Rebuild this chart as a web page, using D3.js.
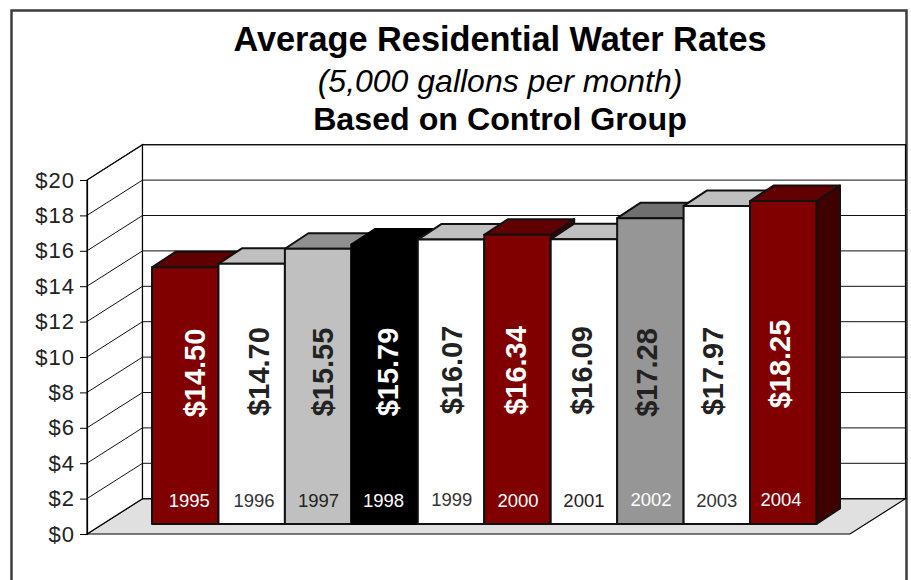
<!DOCTYPE html>
<html><head><meta charset="utf-8">
<script src="https://cdn.jsdelivr.net/npm/d3@7/dist/d3.min.js"></script>
<style>html,body{margin:0;padding:0;background:#fff}svg{display:block}text{font-family:"Liberation Sans",Arial,sans-serif}</style>
</head><body><div id="chart"></div>
<script>
const years=["1995","1996","1997","1998","1999","2000","2001","2002","2003","2004"];
const rates=[14.50,14.70,15.55,15.79,16.07,16.34,16.09,17.28,17.97,18.25];
const rateLabels=["$14.50","$14.70","$15.55","$15.79","$16.07","$16.34","$16.09","$17.28","$17.97","$18.25"];
const ticks=[0,2,4,6,8,10,12,14,16,18,20];
const titles=["Average Residential Water Rates","(5,000 gallons per month)","Based on Control Group"];

// styling, per bar
const fronts=["#800000","#ffffff","#c0c0c0","#000000","#ffffff","#800000","#ffffff","#969696","#ffffff","#800000"];
const tops=["#600000","#c0c0c0","#909090","#000000","#c0c0c0","#600000","#c0c0c0","#707070","#c0c0c0","#600000"];
const sides=["#400000","#808080","#606060","#000000","#808080","#400000","#808080","#4b4b4b","#808080","#400000"];
const labelColors=["#ffffff","#222222","#222222","#ffffff","#222222","#ffffff","#222222","#222222","#222222","#ffffff"];
const yearColors=["#ffffff","#333333","#222222","#ffffff","#333333","#ffffff","#222222","#ffffff","#333333","#ffffff"];

// hand-placed label nudges seen in the original
const valNudgeX=[9,7,4,3,0.2,-2,-2,-4,-4.5,-4];
const valCenterY=[373,371.5,372,372,370,370.5,370.5,372.5,371,364];
const yearNudgeX=[4,2.3,0.4,-1,0.7,0.5,0,0.6,0,-2.3];
const yearBase=[507,507,507,507,506,507,507,506,507,505.5];

const W=911,H=580;
const svg=d3.select("#chart").append("svg").attr("width",W).attr("height",H);
const y=d3.scaleLinear().domain([0,20]).range([534,180]);
const x=d3.scaleBand().domain(years).range([152,816.5]).paddingInner(0).paddingOuter(0);
const wallDx=55.5,wallDy=-35.3,barBase=-10,barDx=23.5,barDy=-15.5;
const xL=87,xR=850;

// outer frame
svg.append("rect").attr("x",11.5).attr("y",10.5).attr("width",895).attr("height",620)
  .attr("fill","#fff").attr("stroke","#3c3c3c").attr("stroke-width",2.5);

const poly=p=>p.map(d=>d.join(",")).join(" ");
// floor
svg.append("polygon").attr("fill","#e0e0e0").attr("stroke","#000").attr("stroke-width",1.2)
  .attr("points",poly([[xL,y(0)],[xR,y(0)],[xR+wallDx,y(0)+wallDy],[xL+wallDx,y(0)+wallDy]]));
// walls
svg.append("polygon").attr("fill","#fff").attr("stroke","#000").attr("stroke-width",1.2)
  .attr("points",poly([[xL,y(0)],[xL+wallDx,y(0)+wallDy],[xL+wallDx,y(20)+wallDy],[xL,y(20)]]));
svg.append("rect").attr("x",xL+wallDx).attr("y",y(20)+wallDy).attr("width",xR-xL).attr("height",y(0)-y(20))
  .attr("fill","#fff").attr("stroke","#000").attr("stroke-width",1.2);
// gridlines
const grid=svg.append("g").attr("fill","none").attr("stroke","#111").attr("stroke-width",1);
grid.selectAll("path").data(ticks.slice(1)).join("path")
  .attr("d",t=>`M${xL},${y(t)}L${xL+wallDx},${y(t)+wallDy}H${xR+wallDx}`);

// axis
const axis=d3.axisLeft(y).tickValues(ticks).tickFormat(d=>"$"+d).tickSize(7).tickPadding(5);
const ag=svg.append("g").attr("transform",`translate(${xL},0)`).call(axis);
ag.select(".domain").attr("stroke","#000").attr("stroke-width",1.2);
ag.selectAll(".tick line").attr("stroke","#000");
ag.selectAll("text").attr("font-size",22).attr("letter-spacing",1).attr("fill","#222").attr("font-family","Liberation Sans");

// bars
const base=y(0)+barBase;
const h=v=>y(0)-y(v);
const bars=svg.selectAll("g.bar").data(years).join("g").attr("class","bar")
  .attr("stroke",(d,i)=>fronts[i]==="#000000"?"#000":"#111").attr("stroke-width",2).attr("stroke-linejoin","round");
bars.each(function(yr,i){
  const g=d3.select(this),l=x(yr),r=l+x.bandwidth(),t=base-h(rates[i]);
  g.append("polygon").attr("fill",sides[i]).attr("points",poly([[r,base],[r+barDx,base+barDy],[r+barDx,t+barDy],[r,t]]));
  g.append("polygon").attr("fill",tops[i]).attr("points",poly([[l,t],[l+barDx,t+barDy],[r+barDx,t+barDy],[r,t]]));
  g.append("rect").attr("x",l).attr("y",t).attr("width",x.bandwidth()).attr("height",h(rates[i])).attr("fill",fronts[i]);
});
// value labels
svg.selectAll("text.val").data(years).join("text").attr("class","val")
  .attr("transform",(d,i)=>`translate(${x(d)+x.bandwidth()/2+valNudgeX[i]+10.5},${valCenterY[i]}) rotate(-90)`)
  .attr("text-anchor","middle").attr("font-weight","bold").attr("font-size",29)
  .attr("fill",(d,i)=>labelColors[i]).text((d,i)=>rateLabels[i]);
// year labels
svg.selectAll("text.yr").data(years).join("text").attr("class","yr")
  .attr("x",(d,i)=>x(d)+x.bandwidth()/2+yearNudgeX[i]).attr("y",(d,i)=>yearBase[i])
  .attr("text-anchor","middle").attr("font-size",18.5)
  .attr("fill",(d,i)=>yearColors[i]).text(d=>d);
// titles
const tt=[{s:34.3,w:"bold",st:"normal",y:51},{s:32,w:"normal",st:"italic",y:92},{s:32.2,w:"bold",st:"normal",y:130}];
svg.selectAll("text.ttl").data(titles).join("text").attr("class","ttl")
  .attr("x",500).attr("y",(d,i)=>tt[i].y).attr("text-anchor","middle")
  .attr("font-size",(d,i)=>tt[i].s).attr("font-weight",(d,i)=>tt[i].w).attr("font-style",(d,i)=>tt[i].st)
  .attr("fill","#000").text(d=>d);
</script></body></html>
